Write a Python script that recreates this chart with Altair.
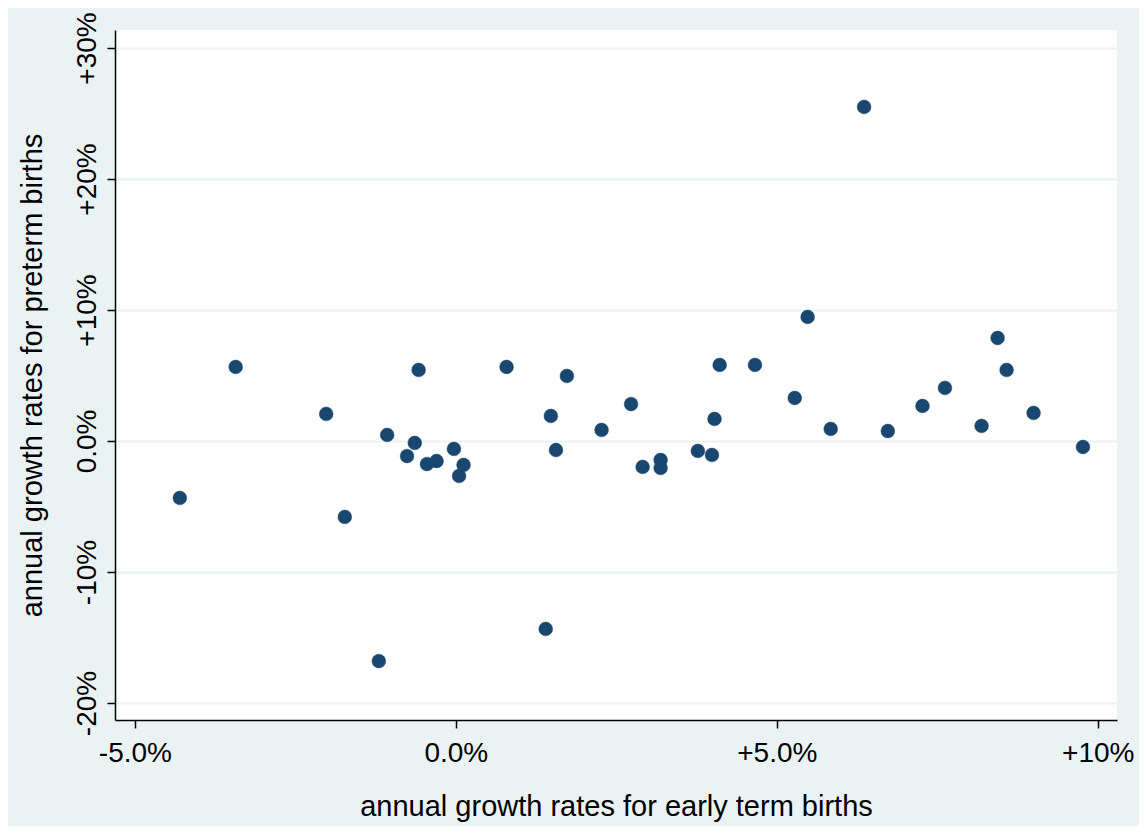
import altair as alt
import pandas as pd

# annual growth rates (%)
early_term = [-4.30, -3.43, -2.02, -1.73, -1.20, -1.07, -0.76, -0.64, -0.58, -0.45,
              -0.30, -0.03, 0.05, 0.12, 0.79, 1.40, 1.48, 1.56, 1.73, 2.27,
              2.73, 2.91, 3.19, 3.19, 3.77, 3.99, 4.03, 4.11, 4.66, 5.28,
              5.48, 5.84, 6.36, 6.73, 7.27, 7.62, 8.19, 8.44, 8.58, 9.00, 9.77]
preterm = [-4.35, 5.65, 2.06, -5.80, -16.8, 0.46, -1.15, -0.15, 5.42, -1.76,
           -1.53, -0.61, -2.67, -1.83, 5.65, -14.35, 1.91, -0.69, 4.96, 0.84,
           2.82, -1.98, -1.45, -2.06, -0.76, -1.07, 1.68, 5.80, 5.80, 3.28,
           9.47, 0.92, 25.5, 0.76, 2.67, 4.05, 1.15, 7.86, 5.42, 2.14, -0.46]

x_ticks = [-5, 0, 5, 10]
x_tick_labels = ["-5.0%", "0.0%", "+5.0%", "+10%"]
y_ticks = [-20, -10, 0, 10, 20, 30]
y_tick_labels = ["-20%", "-10%", "0.0%", "+10%", "+20%", "+30%"]

df = pd.DataFrame({"early": early_term, "preterm": preterm})


def label_expr(vals, labels):
    expr = "''"
    for v, l in zip(reversed(vals), reversed(labels)):
        expr = f"datum.value == {v} ? '{l}' : ({expr})"
    return expr


FONT = "Liberation Sans"
BG = "#eaf2f3"

chart = (
    alt.Chart(df)
    .mark_circle(size=190, color="#1a476f", opacity=1, stroke="#1a476f", strokeWidth=0.5)
    .encode(
        x=alt.X(
            "early:Q",
            title="annual growth rates for early term births",
            scale=alt.Scale(domain=[-5.31, 10.30], nice=False, zero=False),
            axis=alt.Axis(
                values=x_ticks,
                labelExpr=label_expr(x_ticks, x_tick_labels),
                grid=False,
                tickSize=8,
                labelPadding=11,
                titlePadding=25,
            ),
        ),
        y=alt.Y(
            "preterm:Q",
            title="annual growth rates for preterm births",
            scale=alt.Scale(domain=[-21.3, 31.37], nice=False, zero=False),
            axis=alt.Axis(
                values=y_ticks,
                labelExpr=label_expr(y_ticks, y_tick_labels),
                grid=True,
                gridColor=BG,
                gridWidth=2,
                tickSize=8,
                labelAngle=270,
                labelAlign="center",
                labelBaseline="bottom",
                labelPadding=6,
                titlePadding=26,
            ),
        ),
    )
    .properties(
        width=1002,
        height=690,
        background=BG,
        padding={"left": 107, "top": 22, "right": 22, "bottom": 106},
        autosize=alt.AutoSizeParams(type="none"),
    )
    .configure_view(stroke=None, fill="white")
    .configure_axis(
        domainColor="black",
        domainWidth=1.5,
        tickColor="black",
        tickWidth=1.5,
        labelFont=FONT,
        titleFont=FONT,
        labelFontSize=28,
        titleFontSize=29,
        labelColor="black",
        titleColor="black",
        titleFontWeight="normal",
        labelOverlap=False,
        labelFlush=False,
    )
)

chart.save("out.html", embed_options={"renderer": "svg", "actions": False})
